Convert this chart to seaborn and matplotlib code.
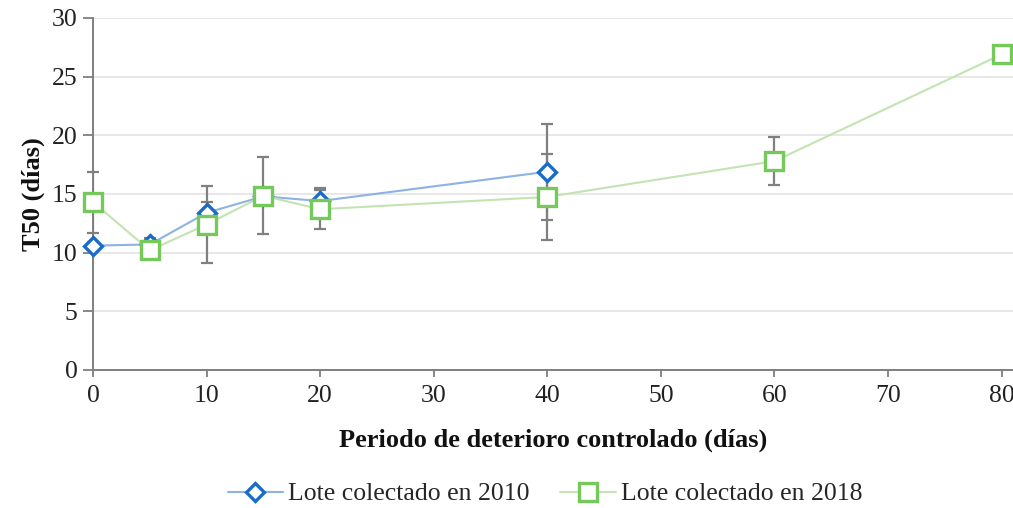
import matplotlib
matplotlib.use("Agg")
import matplotlib.pyplot as plt
import seaborn as sns
import pandas as pd
from matplotlib.lines import Line2D

# Data
dias_2010 = [0, 5, 10, 15, 20, 40]
t50_2010 = [10.6, 10.7, 13.4, 14.8, 14.4, 16.9]
err_2010 = [0.3, 0.55, 0.95, 0.5, 1.1, 4.1]

dias_2018 = [0, 5, 10, 15, 20, 40, 60, 80]
t50_2018 = [14.3, 10.2, 12.4, 14.85, 13.7, 14.75, 17.8, 26.9]
err_2018 = [2.6, 0.65, 3.3, 3.3, 1.65, 3.65, 2.05, 0.0]

label_2010 = "Lote colectado en 2010"
label_2018 = "Lote colectado en 2018"
xlabel = "Periodo de deterioro controlado (días)"
ylabel = "T50 (días)"
xticks = [0, 10, 20, 30, 40, 50, 60, 70, 80]
yticks = [0, 5, 10, 15, 20, 25, 30]

sns.set_theme(style="white")
plt.rcParams['font.family'] = ['Liberation Serif', 'DejaVu Serif']

df10 = pd.DataFrame({"x": dias_2010, "y": t50_2010})
df18 = pd.DataFrame({"x": dias_2018, "y": t50_2018})

fig = plt.figure(figsize=(10.13, 5.08), dpi=100)
ax = fig.add_axes([93/1013, 1-370/508, (1013-93)/1013, (370-18)/508])

blue_line = "#8DB3E2"
blue_mark = "#1C6BC8"
green_line = "#C2E4B3"
green_mark = "#74C95A"
err_col = "#808080"

ax.errorbar(dias_2010, t50_2010, yerr=err_2010, fmt="none", ecolor=err_col,
            elinewidth=1.6, capsize=4.5, capthick=1.6, zorder=2)
ax.errorbar(dias_2018, t50_2018, yerr=err_2018, fmt="none", ecolor=err_col,
            elinewidth=1.6, capsize=4.5, capthick=1.6, zorder=2)

sns.lineplot(data=df10, x="x", y="y", ax=ax, color=blue_line, linewidth=1.5,
             marker="D", markersize=9, markerfacecolor="white",
             markeredgecolor=blue_mark, markeredgewidth=2.4, zorder=3)
sns.lineplot(data=df18, x="x", y="y", ax=ax, color=green_line, linewidth=1.5,
             marker="s", markersize=13, markerfacecolor="white",
             markeredgecolor=green_mark, markeredgewidth=2.4, zorder=4)

ax.set_xlim(0, 81)
ax.set_ylim(0, 30)
ax.set_xticks(xticks)
ax.set_yticks(yticks)
ax.tick_params(axis="both", labelsize=18.5, labelcolor="#222222")
ax.tick_params(axis="y", left=True, length=7, width=1.3, color="#7F7F7F", direction="out", pad=4)
ax.tick_params(axis="x", bottom=True, length=5, width=1.3, color="#7F7F7F", direction="out", pad=6)
ax.yaxis.grid(True, color="#E6E6E6", linewidth=1.3)
ax.xaxis.grid(False)
for s in ["top", "right"]:
    ax.spines[s].set_visible(False)
for s in ["left", "bottom"]:
    ax.spines[s].set_color("#7F7F7F")
    ax.spines[s].set_linewidth(1.4)
for ln in ax.lines:
    ln.set_clip_on(False)

ax.set_xlabel(xlabel, fontsize=19, fontweight="bold", color="#111111", labelpad=15)
ax.set_ylabel(ylabel, fontsize=19, fontweight="bold", color="#111111", labelpad=5)

handles = [
    Line2D([], [], color=blue_line, linewidth=1.5, marker="D", markersize=9,
           markerfacecolor="white", markeredgecolor=blue_mark, markeredgewidth=2.4),
    Line2D([], [], color=green_line, linewidth=1.5, marker="s", markersize=13,
           markerfacecolor="white", markeredgecolor=green_mark, markeredgewidth=2.4),
]
fig.legend(handles, [label_2010, label_2018], loc="center", bbox_to_anchor=(545/1013, 1-494/508),
           ncol=2, frameon=False, fontsize=18.5, handlelength=2.15, columnspacing=1.2,
           handletextpad=0.2)

fig.savefig("out.png", dpi=100)
